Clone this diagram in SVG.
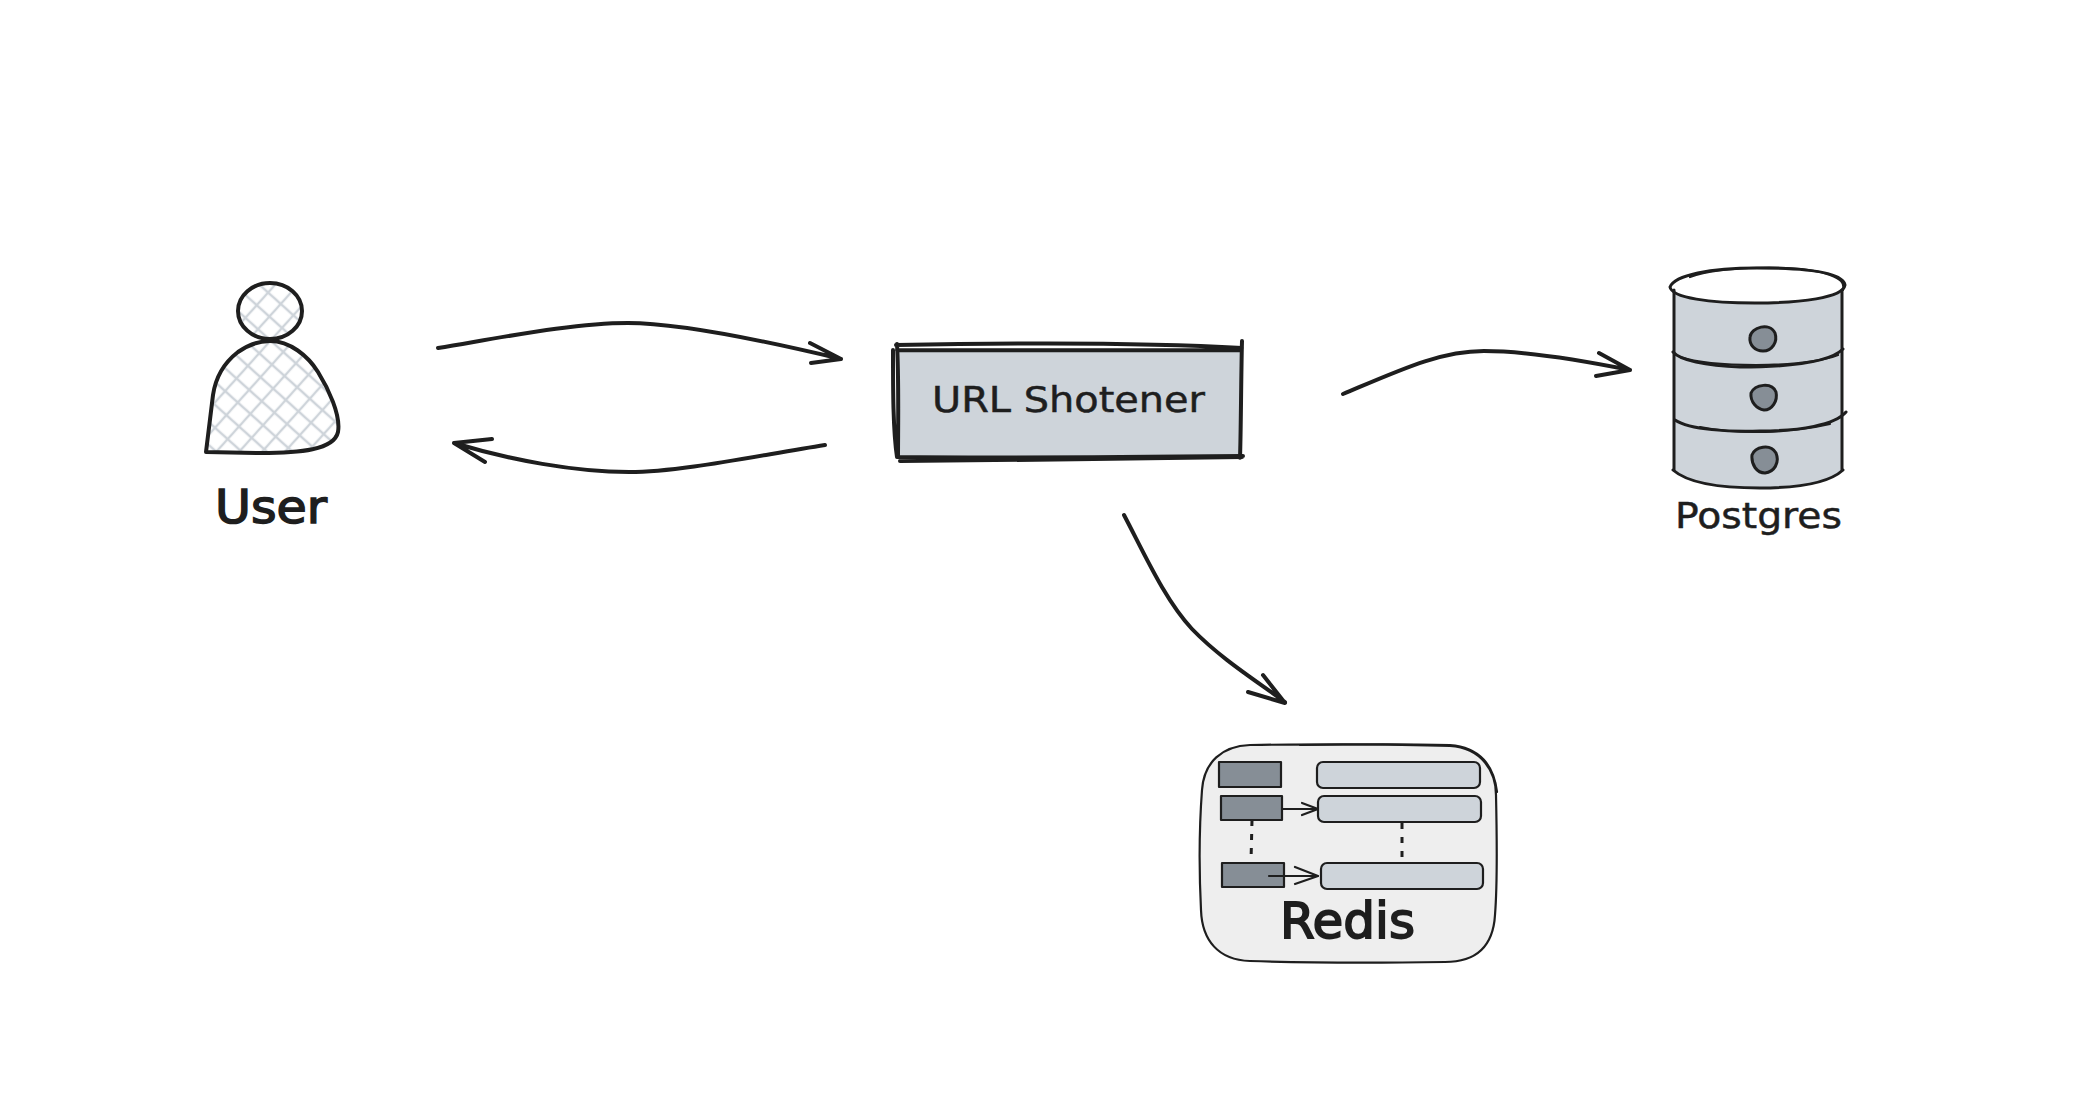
<svg xmlns="http://www.w3.org/2000/svg" width="2078" height="1108" viewBox="0 0 2078 1108">
<defs>
<pattern id="hatch" width="17" height="17" patternUnits="userSpaceOnUse" patternTransform="rotate(42)">
<path d="M0 4H17M4 0V17" stroke="#ced4da" stroke-width="2.4" fill="none"/>
</pattern>
<style>
.ink{fill:none;stroke:#1e1e1e;stroke-linecap:round;stroke-linejoin:round}
.conn{stroke-width:4}
.thin{stroke-width:2.2}
.med{stroke-width:3}
.fat{stroke-width:4}
.light{fill:#ced4da}
.lbl{font-family:"DejaVu Sans",sans-serif;fill:#1e1e1e;text-anchor:start}
</style>
</defs>
<rect width="2078" height="1108" fill="#ffffff"/>
<g id="connectors">
<path class="ink conn" d="M438 348C510 336 575 323 628 323C680 323 770 342 841 359M810 343L841 359L811 363"/>
<path class="ink conn" d="M825 445C755 456 680 472 629 472C575 472 510 460 454 443M492 439L454 443L485 462"/>
<path class="ink conn" d="M1343 394C1400 370 1440 351 1484 351C1530 351 1590 362 1630 370M1599 353L1630 370L1596 376"/>
<path class="ink conn" d="M1124 515C1145 555 1165 600 1192 629C1220 658 1255 680 1285 702M1263 675L1285 703L1248 692"/>
</g>
<g id="user">
<ellipse cx="270" cy="311" rx="32" ry="28" class="ink fat" style="fill:url(#hatch)"/>
<path d="M206 452L213 395C216 375 225 362 238 352C248 345 258 341 270 341C290 341 308 356 318 372C328 388 341 415 338 432C334 450 300 453 260 453Z" class="ink fat" style="fill:url(#hatch)"/>
<text class="lbl" x="215" y="523" font-size="46" textLength="112" lengthAdjust="spacingAndGlyphs" stroke="#1e1e1e" stroke-width="1.5">User</text>
</g>
<g id="url-shortener">
<rect x="898" y="349" width="342" height="108" class="light"/>
<path class="ink fat" d="M896 345C1000 343 1140 342 1242 348M897 350C1000 350 1140 351 1241 350M893 350C893 390 893 430 897 457M897 344C899 380 898 430 898 456M1242 341C1241 380 1241 430 1240 458M897 457C1000 458 1140 457 1243 456M900 461C1000 460 1140 459 1242 457"/>
<text class="lbl" x="932" y="412" font-size="35" textLength="273" lengthAdjust="spacingAndGlyphs" stroke="#1e1e1e" stroke-width="0.5">URL Shotener</text>
</g>
<g id="postgres">
<path class="light" d="M1674 285H1843V470C1810 495 1705 495 1674 470Z"/>
<ellipse cx="1757" cy="286" rx="87" ry="18" fill="#ffffff"/>
<path class="ink med" d="M1670 287C1675 275 1710 268 1757 268C1805 268 1843 272 1845 285C1843 298 1800 303 1755 303C1710 303 1672 298 1670 287Z"/>
<path class="ink thin" d="M1690 277C1720 266 1800 264 1830 275C1840 279 1845 282 1843 290"/>
<path class="ink med" d="M1674 290V470M1842 290V470"/>
<path class="ink med" d="M1673 352C1680 360 1705 366 1740 367C1790 367 1830 362 1843 349M1675 420C1690 430 1730 432 1760 431C1800 431 1835 425 1846 412"/>
<path class="ink thin" d="M1680 357C1710 367 1800 369 1838 355M1700 427C1740 435 1790 433 1830 424"/>
<path class="ink med" d="M1673 470C1690 485 1730 488 1760 488C1800 488 1830 482 1843 470"/>
<path class="ink med" style="fill:#868e96" d="M1750 337C1751 327 1770 322 1775 333C1778 342 1772 351 1763 351C1755 351 1749 345 1750 337Z"/>
<path class="ink med" style="fill:#868e96" d="M1751 393C1755 384 1772 382 1776 392C1778 401 1772 410 1764 410C1757 409 1750 402 1751 393Z"/>
<path class="ink med" style="fill:#868e96" d="M1752 455C1755 447 1770 443 1776 453C1780 463 1774 472 1765 473C1757 473 1751 465 1752 455Z"/>
<text class="lbl" x="1675" y="528" font-size="36" textLength="167" lengthAdjust="spacingAndGlyphs" stroke="#1e1e1e" stroke-width="0.5">Postgres</text>
</g>
<g id="redis">
<rect x="1201" y="745" width="295" height="217" rx="46" fill="#eeeeee"/>
<path class="ink thin" d="M1250 745C1320 744 1400 744 1450 746C1482 748 1496 772 1496 795C1497 840 1497 890 1495 915C1493 948 1475 962 1445 962C1380 963 1310 963 1250 961C1218 960 1202 940 1201 910C1199 870 1199 830 1202 790C1204 762 1222 746 1250 745Z"/>
<path class="ink thin" d="M1300 745C1360 744 1410 744 1450 745C1480 747 1494 766 1497 792"/>
<rect class="ink thin" style="fill:#868e96" x="1219" y="762" width="62" height="25"/>
<rect class="ink thin" style="fill:#868e96" x="1221" y="796" width="61" height="24"/>
<rect class="ink thin" style="fill:#868e96" x="1222" y="863" width="62" height="24"/>
<rect class="ink thin" style="fill:#ced4da" x="1317" y="762" width="163" height="26" rx="6"/>
<rect class="ink thin" style="fill:#ced4da" x="1318" y="796" width="163" height="26" rx="6"/>
<rect class="ink thin" style="fill:#ced4da" x="1321" y="863" width="162" height="26" rx="6"/>
<path class="ink thin" d="M1283 809H1318M1302 803L1318 809L1302 815"/>
<path class="ink thin" d="M1269 876H1318M1295 867L1318 876L1295 884"/>
<path class="ink med" stroke-dasharray="6 8" style="stroke-linecap:butt" d="M1252 820L1251 862M1402 823V862"/>
<text class="lbl" x="1280" y="938" font-size="50" textLength="135" lengthAdjust="spacingAndGlyphs" stroke="#1e1e1e" stroke-width="1.8">Redis</text>
</g>
</svg>
